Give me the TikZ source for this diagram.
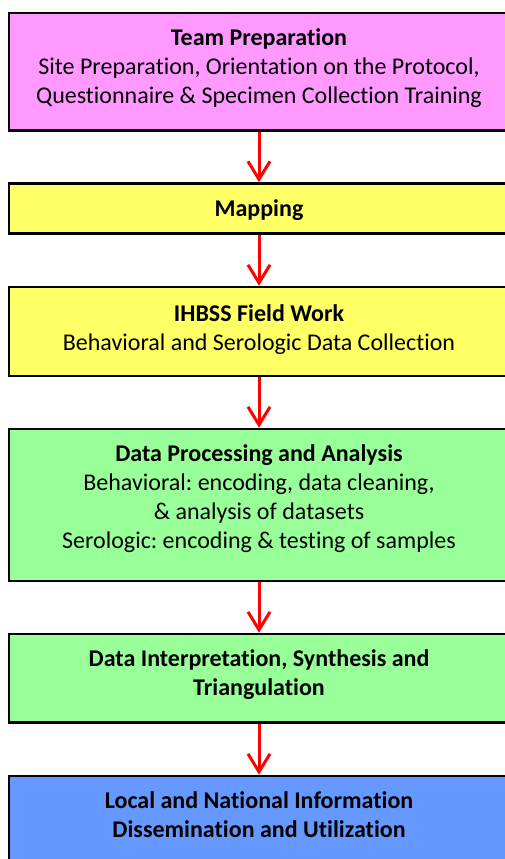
\documentclass[tikz,border=0pt]{standalone}
\usepackage{fontspec}
\setmainfont{Carlito}[Ligatures={NoCommon}]
\frenchspacing
\usetikzlibrary{arrows.meta}
\definecolor{cmag}{HTML}{FF99FF}
\definecolor{cyel}{HTML}{FFFF66}
\definecolor{cgrn}{HTML}{99FF99}
\definecolor{cblu}{HTML}{6699FF}
\begin{document}
\begin{tikzpicture}[x=1pt,y=-1pt,
  box/.style={draw=black,line width=2.6pt,minimum width=500pt,inner sep=0pt},
  txt/.style={inner sep=0pt,align=center,anchor=base,
    font=\fontsize{24pt}{29pt}\selectfont},
  arr/.style={draw=red,line width=3pt,-{Straight Barb[length=18pt,width=22pt]}}]
\useasboundingbox (0,0) rectangle (505,859);
\clip (0,0) rectangle (505,859);
\node[box,fill=cmag,minimum height=117.5pt] (b1) at (259,71.75) {};
\node[box,fill=cyel,minimum height=50pt] (b2) at (259,208.5) {};
\node[box,fill=cyel,minimum height=89pt] (b3) at (259,331.5) {};
\node[box,fill=cgrn,minimum height=152pt] (b4) at (259,505) {};
\node[box,fill=cgrn,minimum height=88.5pt] (b5) at (259,678.25) {};
\node[box,fill=cblu,minimum height=104pt] (b6) at (259,828) {};
\node[txt] (t1) at (259,103)
  {\textbf{Team Preparation}\\Site Preparation, Orientation on the Protocol,\\Questionnaire \& Specimen Collection Training};
\node[txt] (t2) at (259,216) {\textbf{Mapping}};
\node[txt] (t3) at (259,350)
  {\textbf{IHBSS Field Work}\\Behavioral and Serologic Data Collection};
\node[txt] (t4) at (259,548)
  {\textbf{Data Processing and Analysis}\\Behavioral: encoding, data cleaning,\\\& analysis of datasets\\Serologic: encoding \& testing of samples};
\node[txt] (t5) at (259,695)
  {\textbf{Data Interpretation, Synthesis and}\\\textbf{Triangulation}};
\node[txt] (t6) at (259,837)
  {\textbf{Local and National Information}\\\textbf{Dissemination and Utilization}};
\draw[arr] (b1.south) -- (b2.north);
\draw[arr] (b2.south) -- (b3.north);
\draw[arr] (b3.south) -- (b4.north);
\draw[arr] (b4.south) -- (b5.north);
\draw[arr] (b5.south) -- (b6.north);
\end{tikzpicture}
\end{document}
